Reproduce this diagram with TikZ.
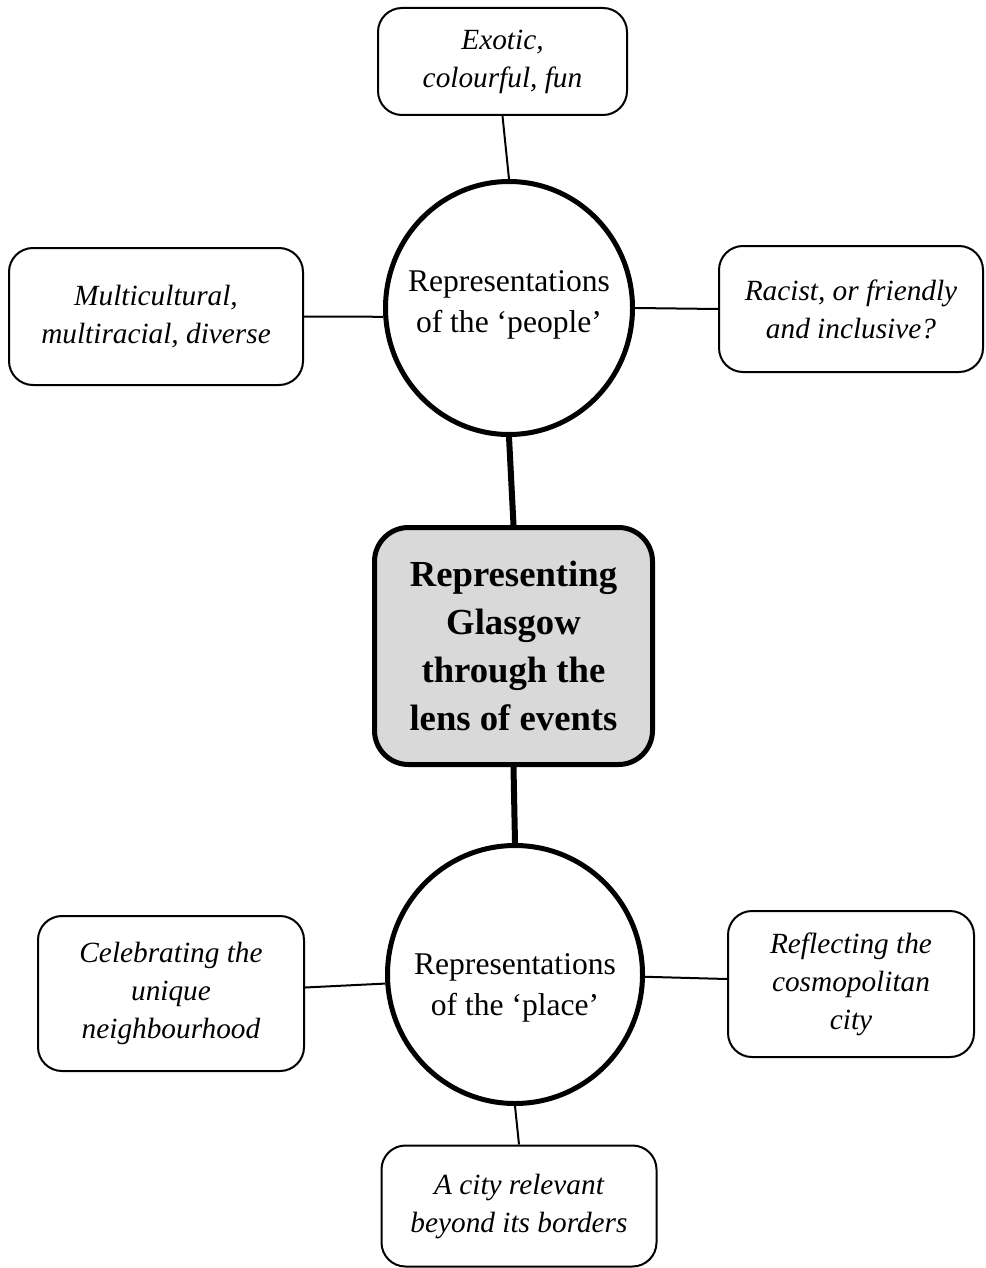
\documentclass[tikz,border=0pt]{standalone}
\usepackage{fontspec}
\setmainfont{Liberation Serif}
\usetikzlibrary{shapes.geometric}
\definecolor{coregray}{HTML}{D9D9D9}
\tikzset{
  leaf/.style={draw, line width=2pt, rounded corners=24pt, align=center,
    font=\fontsize{29.3}{38}\selectfont\itshape, inner sep=0pt},
  hub/.style={draw, ellipse, line width=5pt, inner sep=0pt},
  hubtext/.style={align=center, font=\fontsize{31.6}{41}\selectfont, inner sep=0pt},
  core/.style={draw, line width=5pt, rounded corners=34pt, fill=coregray, align=center,
    font=\fontsize{36.7}{48}\selectfont\bfseries, inner sep=0pt,
    minimum width=278pt, minimum height=237pt},
  twig/.style={line width=2pt},
  trunk/.style={line width=6pt}
}
\begin{document}
\begin{tikzpicture}[x=1pt,y=-1pt]
\useasboundingbox (0,0) rectangle (985,1268);
% hubs
\node[hub, minimum width=247pt, minimum height=253pt] (people) at (509,308) {};
\node[hubtext] (peopletext) at (509,305) {Representations\\of the ‘people’};
\node[hub, minimum width=255pt, minimum height=258pt] (place) at (515,974.5) {};
\node[hubtext] (placetext) at (515,987.5) {Representations\\of the ‘place’};
% core
\node[core] (core) at (513.5,646) {Representing\\Glasgow\\through the\\lens of events};
% leaves
\node[leaf, minimum width=249pt, minimum height=107pt] (exotic) at (502.5,61.5) {Exotic,\\colourful, fun};
\node[leaf, minimum width=294pt, minimum height=137pt] (multi) at (156,316.5) {Multicultural,\\multiracial, diverse};
\node[leaf, minimum width=264pt, minimum height=126pt] (racist) at (851,309) {Racist, or friendly\\and inclusive?};
\node[leaf, minimum width=266pt, minimum height=155pt] (celebr) at (171,993.5) {Celebrating the\\unique\\neighbourhood};
\node[leaf, minimum width=246pt, minimum height=146pt] (reflect) at (851,984) {Reflecting the\\cosmopolitan\\city};
\node[leaf, minimum width=275pt, minimum height=121pt] (acity) at (519,1206) {A city relevant\\beyond its borders};
% connectors
\draw[twig] (exotic.south) -- (people.north);
\draw[twig] (multi.east) -- (people.184);
\draw[twig] (people.east) -- (racist.west);
\draw[trunk] (people.south) -- (core.north);
\draw[trunk] (core.south) -- (place.north);
\draw[twig] ([yshift=6pt]celebr.east) -- (place.184);
\draw[twig] (place.359) -- ([yshift=5pt]reflect.west);
\draw[twig] (place.south) -- (acity.north);
\end{tikzpicture}
\end{document}
